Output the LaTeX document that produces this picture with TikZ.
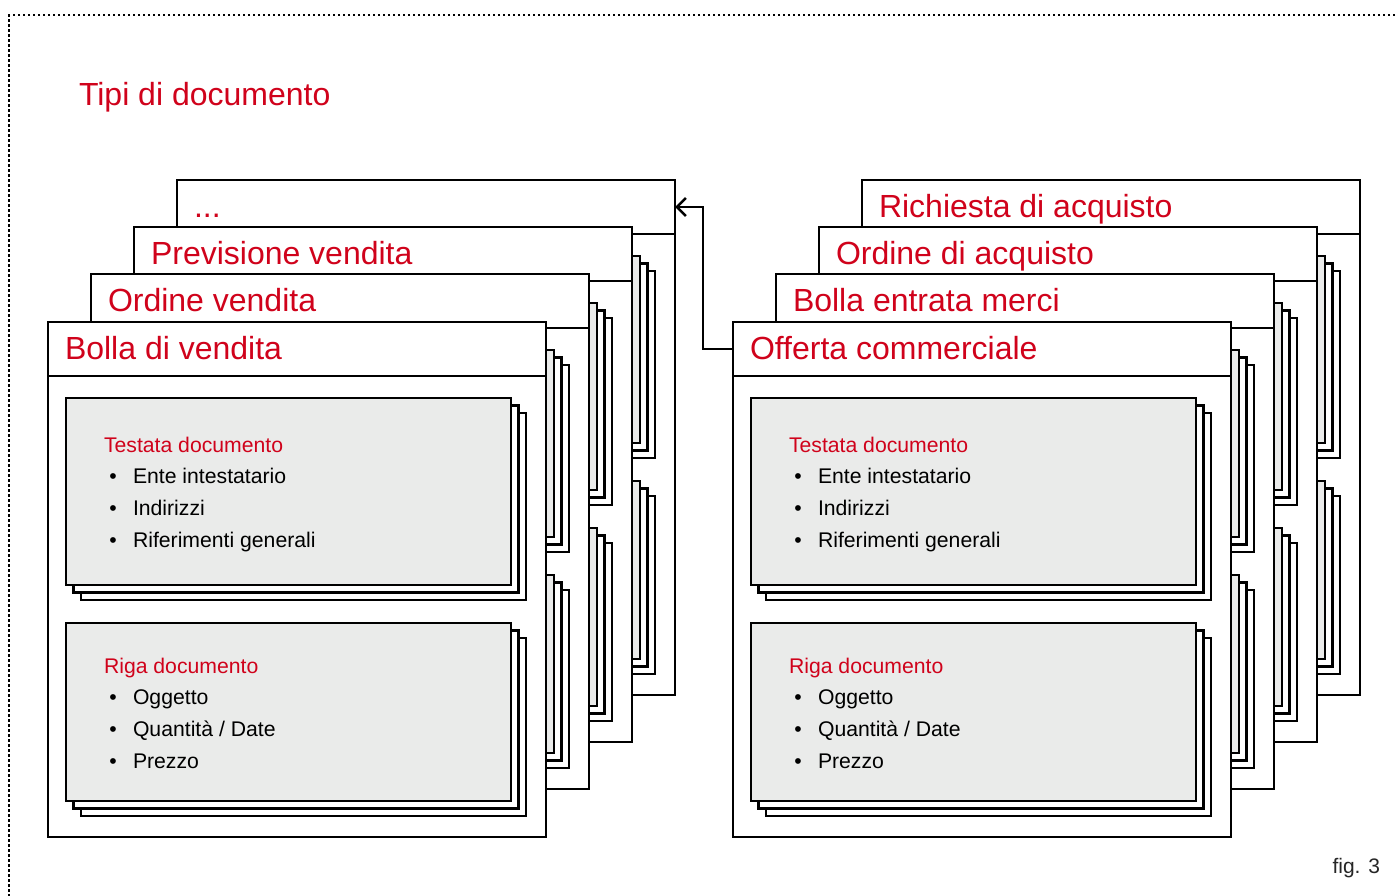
\documentclass[tikz,border=0pt]{standalone}
\usepackage{fontspec}
\setmainfont{Liberation Sans}
\usetikzlibrary{calc,arrows.meta}
\definecolor{docred}{RGB}{208,2,27}
\definecolor{docgray}{RGB}{234,235,234}
\tikzset{
  every node/.style={inner sep=0pt, outer sep=0pt},
  cardbox/.style={draw=black, fill=white, line width=2.8pt, rectangle, anchor=north west, minimum width=498pt, minimum height=515pt},
  headbox/.style={draw=black, line width=2.8pt, rectangle, anchor=north west, minimum width=498pt, minimum height=54pt},
  cardtitle/.style={anchor=base west, text=docred, font=\fontsize{32}{36}\selectfont},
  shad/.style={draw=black, fill=white, line width=2.8pt, rectangle, anchor=north west, minimum width=445pt},
  panel/.style={draw=black, fill=docgray, line width=2.8pt, rectangle, anchor=north west, minimum width=445pt},
  paneltitle/.style={anchor=base west, text=docred, font=\fontsize{21.2}{24}\selectfont},
  item/.style={anchor=base west, text=black, font=\fontsize{21.2}{24}\selectfont},
  bul/.style={anchor=base, text=black, font=\fontsize{21.2}{24}\selectfont},
  link/.style={draw=black, line width=2.6pt, -{Straight Barb[length=9pt,width=18pt,line width=2.6pt]}},
}
% #1 name, #2 x, #3 y, #4 title
\newcommand\doccard[4]{%
  \node[cardbox] (#1) at (#2,#3) {};
  \node[headbox] (#1h) at (#1.north west) {};
  \node[cardtitle] (#1t) at ($(#1.north west)+(17,37.5)$) {#4};
  \node[shad, minimum height=187pt] (#1as2) at ($(#1.north west)+(33,91)$) {};
  \node[shad, minimum height=187pt] (#1as1) at ($(#1.north west)+(25.5,83.5)$) {};
  \node[panel, minimum height=187pt] (#1a) at ($(#1.north west)+(18,76)$) {};
  \node[shad, minimum height=178pt] (#1bs2) at ($(#1.north west)+(33,316)$) {};
  \node[shad, minimum height=178pt] (#1bs1) at ($(#1.north west)+(25.5,308.5)$) {};
  \node[panel, minimum height=178pt] (#1b) at ($(#1.north west)+(18,301)$) {};
}
% #1 name of card
\newcommand\cardtext[1]{%
  \node[paneltitle] (#1a0) at ($(#1a.north west)+(38,54)$) {Testata documento};
  \node[bul] (#1ab1) at ($(#1a.north west)+(47,85)$) {•};
  \node[item] (#1a1) at ($(#1a.north west)+(67,85)$) {Ente intestatario};
  \node[bul] (#1ab2) at ($(#1a.north west)+(47,117)$) {•};
  \node[item] (#1a2) at ($(#1a.north west)+(67,117)$) {Indirizzi};
  \node[bul] (#1ab3) at ($(#1a.north west)+(47,149)$) {•};
  \node[item] (#1a3) at ($(#1a.north west)+(67,149)$) {Riferimenti generali};
  \node[paneltitle] (#1b0) at ($(#1b.north west)+(38,50)$) {Riga documento};
  \node[bul] (#1bb1) at ($(#1b.north west)+(47,81)$) {•};
  \node[item] (#1b1) at ($(#1b.north west)+(67,81)$) {Oggetto};
  \node[bul] (#1bb2) at ($(#1b.north west)+(47,113)$) {•};
  \node[item] (#1b2) at ($(#1b.north west)+(67,113)$) {Quantità / Date};
  \node[bul] (#1bb3) at ($(#1b.north west)+(47,145)$) {•};
  \node[item] (#1b3) at ($(#1b.north west)+(67,145)$) {Prezzo};
}
\begin{document}
\begin{tikzpicture}[x=1pt,y=-1pt]
\useasboundingbox (0,0) rectangle (1398,895);
\begin{scope}
\clip (0,0) rectangle (1398,895);
\fill[white] (0,0) rectangle (1398,895);
\draw[line width=2.5pt, dash pattern=on 2.5pt off 2.5pt] (1420,15) -- (9,15) -- (9,920);
\end{scope}
\node[anchor=base west, text=docred, font=\fontsize{32}{36}\selectfont] (title) at (79,105) {Tipi di documento};
% left stack
\doccard{l4}{177}{180}{...}
\doccard{l3}{134}{227}{Previsione vendita}
\doccard{l2}{91}{274}{Ordine vendita}
\doccard{l1}{48}{322}{Bolla di vendita}
\cardtext{l1}
% right stack
\doccard{r4}{862}{180}{Richiesta di acquisto}
\doccard{r3}{819}{227}{Ordine di acquisto}
\doccard{r2}{776}{274}{Bolla entrata merci}
\doccard{r1}{733}{322}{Offerta commerciale}
\cardtext{r1}
% connector
\draw[link] (r1h.west) -- ++(-30,0) |- (l4h.east);
\node[anchor=base east, text=black!85, font=\fontsize{21}{24}\selectfont] (fig) at (1380,873) {fig. 3};
\end{tikzpicture}
\end{document}
